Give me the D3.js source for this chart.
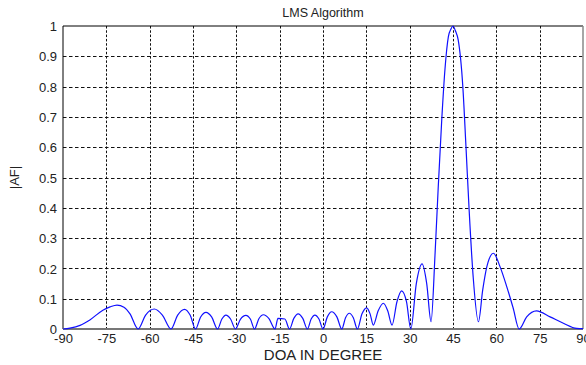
<!DOCTYPE html>
<html>
<head>
<meta charset="utf-8">
<script src="https://cdn.jsdelivr.net/npm/d3@7"></script>
<style>
  body { margin: 0; background: #fff; }
  svg { display: block; font-family: "Liberation Sans", Arial, sans-serif; }
</style>
</head>
<body>
<svg id="chart"></svg>
<script>
// DOA (degrees) and |AF|
const doaDeg = [
  -90, -87.6, -84.1, -80.7, -76.2, -73.7, -71.3, -68.9, -66.8, -64.0,
  -61.4, -58.4, -55.6, -52.6,
  -50.3, -47.9, -46.0, -44.1,
  -42.4, -40.5, -38.5, -36.5,
  -35.0, -33.6, -32.0, -30.3,
  -28.6, -26.7, -25.1, -23.7,
  -22.2, -20.6, -18.7, -16.6,
  -15.6, -13.2, -11.6,
  -10.1, -8.6, -7.0, -5.4,
  -4.1, -2.8, -1.4, 0.0,
  1.5, 3.0, 4.8, 6.5,
  7.8, 9.1, 10.5, 11.9,
  13.5, 15.1, 16.3, 17.4,
  19.1, 20.9, 22.4, 23.9,
  25.6, 27.2, 28.9, 30.4,
  32.3, 34.3, 35.9, 37.4,
  38.8, 39.9, 41.1, 42.2, 43.4, 44.3, 45.0, 45.8, 46.8, 48.4, 49.5, 50.6, 52.0, 53.8,
  55.3, 56.7, 59.0, 61.3, 63.6, 65.8, 67.9,
  70.5, 73.9, 78.6, 83.2, 87.8, 90
];
const afMag = [
  0, 0.003, 0.012, 0.03, 0.062, 0.073, 0.079, 0.072, 0.05, 0,
  0.046, 0.066, 0.046, 0,
  0.046, 0.065, 0.046, 0,
  0.039, 0.055, 0.039, 0,
  0.033, 0.046, 0.033, 0,
  0.032, 0.045, 0.032, 0,
  0.034, 0.047, 0.034, 0,
  0.035, 0.033, 0,
  0.035, 0.05, 0.035, 0,
  0.033, 0.046, 0.033, 0,
  0.04, 0.057, 0.04, 0,
  0.037, 0.052, 0.037, 0,
  0.05, 0.07, 0.05, 0.013,
  0.06, 0.085, 0.06, 0.013,
  0.09, 0.126, 0.09, 0,
  0.15, 0.215, 0.15, 0.024,
  0.25, 0.47, 0.69, 0.855, 0.965, 0.99, 1.0, 0.985, 0.954, 0.8, 0.6, 0.39, 0.17, 0.024,
  0.13, 0.205, 0.25, 0.205, 0.14, 0.07, 0,
  0.04, 0.06, 0.04, 0.019, 0.002, 0.001
];

const xTicks = [-90, -75, -60, -45, -30, -15, 0, 15, 30, 45, 60, 75, 90];
const yTicks = [0, 0.1, 0.2, 0.3, 0.4, 0.5, 0.6, 0.7, 0.8, 0.9, 1];
const titleText = 'LMS Algorithm';
const xLabelText = 'DOA IN DEGREE';
const yLabelText = '|AF|';

const width = 586, height = 365;
const margin = { top: 26, right: 3, bottom: 36, left: 63 };

const svg = d3.select('#chart').attr('width', width).attr('height', height);
svg.append('rect').attr('width', width).attr('height', height).attr('fill', '#fff');

const x = d3.scaleLinear().domain([-90, 90]).range([margin.left, width - margin.right]);
const y = d3.scaleLinear().domain([0, 1]).range([height - margin.bottom, margin.top]);

// grid
const grid = svg.append('g').attr('stroke', '#111').attr('stroke-width', 1);
grid.selectAll('line.v').data(xTicks.slice(1, -1)).join('line')
  .attr('class', 'v')
  .attr('x1', d => Math.round(x(d)) + 0.5).attr('x2', d => Math.round(x(d)) + 0.5)
  .attr('y1', y(1)).attr('y2', y(0))
  .attr('stroke-dasharray', '2.5,1.8');
grid.selectAll('line.h').data(yTicks.slice(1, -1)).join('line')
  .attr('class', 'h')
  .attr('x1', x(-90)).attr('x2', x(90))
  .attr('y1', d => Math.round(y(d)) + 0.5).attr('y2', d => Math.round(y(d)) + 0.5)
  .attr('stroke-dasharray', '3.5,2.5');

// axes (plain hyphen minus, like the original)
const xAxis = svg.append('g')
  .attr('transform', `translate(0,${ y(0) })`)
  .call(d3.axisBottom(x).tickValues(xTicks).tickFormat(d => String(d)).tickSize(0).tickPadding(5));
const yAxis = svg.append('g')
  .attr('transform', `translate(${ x(-90) },0)`)
  .call(d3.axisLeft(y).tickValues(yTicks).tickFormat(d => String(d)).tickSize(0).tickPadding(6));
[xAxis, yAxis].forEach(a => {
  a.select('.domain').remove();
  a.selectAll('text').attr('font-size', 13).attr('fill', '#222')
    .attr('font-family', '"Liberation Sans", Arial, sans-serif');
});
yAxis.selectAll('text').attr('dy', '0.36em');

// frame
svg.append('line').attr('x1', x(-90)).attr('x2', x(90)).attr('y1', y(1)).attr('y2', y(1))
  .attr('stroke', '#000');
svg.append('line').attr('x1', x(-90)).attr('x2', x(-90)).attr('y1', y(1)).attr('y2', y(0))
  .attr('stroke', '#000');
svg.append('line').attr('x1', x(-90)).attr('x2', x(90)).attr('y1', y(0)).attr('y2', y(0))
  .attr('stroke', '#777').attr('stroke-width', 2);
svg.append('line').attr('x1', x(90)).attr('x2', x(90)).attr('y1', y(1)).attr('y2', y(0))
  .attr('stroke', '#888').attr('stroke-width', 1.5);

// curve
const pts = doaDeg.map((d, i) => [d, afMag[i]]);
const line = d3.line().x(d => x(d[0])).y(d => y(d[1])).curve(d3.curveMonotoneX);
svg.append('path')
  .datum(pts)
  .attr('fill', 'none')
  .attr('stroke', '#1010ff')
  .attr('stroke-width', 1.2)
  .attr('d', line);

// labels
svg.append('text').attr('x', (x(-90) + x(90)) / 2).attr('y', 17)
  .attr('text-anchor', 'middle').attr('font-size', 12.5).attr('fill', '#222')
  .text(titleText);
svg.append('text').attr('x', (x(-90) + x(90)) / 2).attr('y', 360)
  .attr('text-anchor', 'middle').attr('font-size', 15).attr('fill', '#222')
  .text(xLabelText);
svg.append('text')
  .attr('transform', `translate(19,${ (y(0) + y(1)) / 2 }) rotate(-90)`)
  .attr('text-anchor', 'middle').attr('font-size', 13).attr('fill', '#222')
  .text(yLabelText);
</script>
</body>
</html>
